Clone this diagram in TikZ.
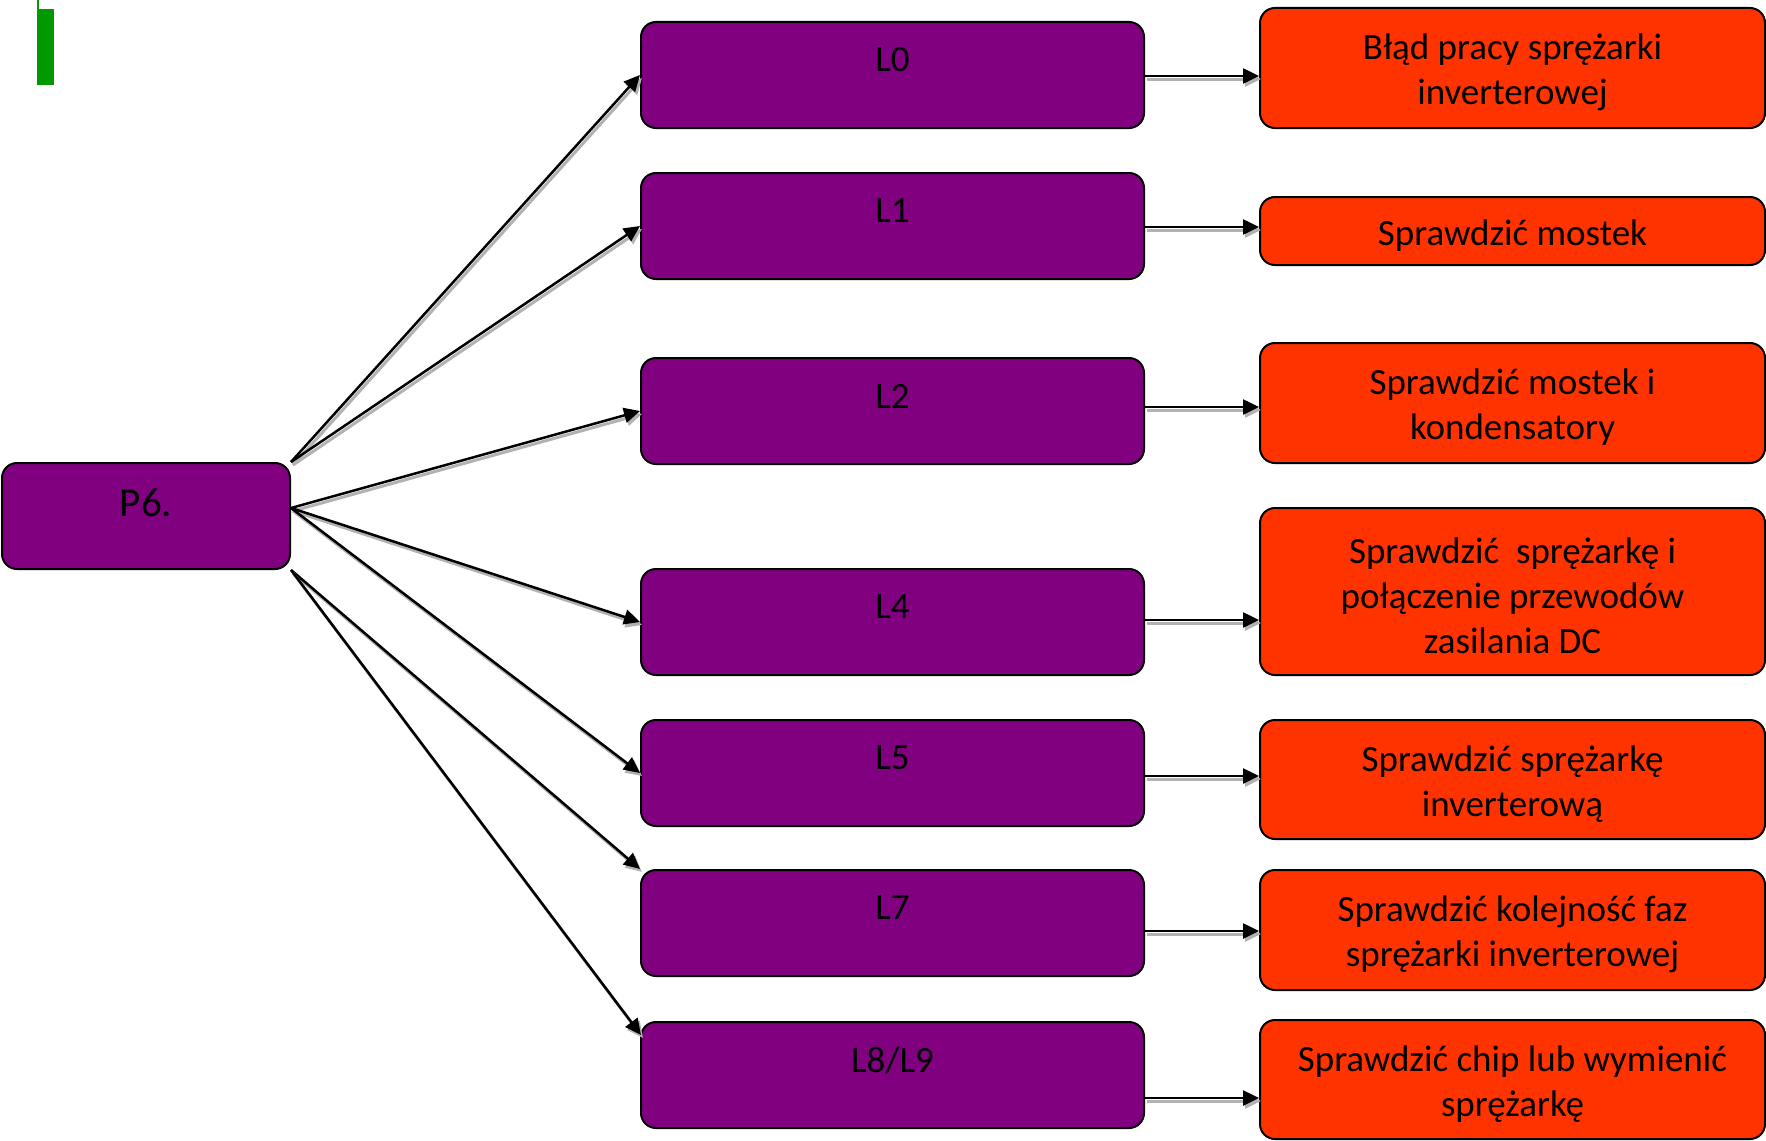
\documentclass[tikz,border=0pt]{standalone}
\usepackage{fontspec}
\setmainfont{Carlito}
\usetikzlibrary{arrows.meta,calc}
\definecolor{boxpurple}{HTML}{800080}
\definecolor{boxorange}{HTML}{FF3300}
\definecolor{markgreen}{HTML}{009900}

\begin{document}
\begin{tikzpicture}[x=1pt,y=-1pt,
  every node/.style={font=\fontsize{37}{45}\selectfont},
  box/.style={draw=black, line width=2pt, rounded corners=15pt, anchor=north west,
    inner sep=0pt, align=center},
  lbox/.style={box, fill=boxpurple, minimum width=503pt, minimum height=106pt},
  obox/.style={box, fill=boxorange, minimum width=505pt},
  toptext/.style={anchor=center, yshift=-39pt},
  midtext/.style={anchor=center, align=center, yshift=-4.5pt},
  conn/.style={line width=2.5pt, -{Triangle[length=16pt,width=15pt]},
    preaction={draw=black!30, line width=3pt, transform canvas={shift={(2pt,-3pt)}}}},
]
\useasboundingbox (0,0) rectangle (1766,1140);

% green marker, top left
\fill[markgreen] (37,9) rectangle (54,85);
\fill[markgreen] (37,0) rectangle (39,9);

% root
\node[box, fill=boxpurple, minimum width=288pt, minimum height=106pt,
  label={[toptext, yshift=-2pt, font=\fontsize{41}{49}\selectfont]north:P6.}] (p6) at (1,462) {};

% error codes
\node[lbox, label={[toptext]north:L0}] (l0) at (640,21) {};
\node[lbox, label={[toptext]north:L1}] (l1) at (640,172) {};
\node[lbox, label={[toptext]north:L2}] (l2) at (640,357) {};
\node[lbox, label={[toptext]north:L4}] (l4) at (640,568) {};
\node[lbox, label={[toptext]north:L5}] (l5) at (640,719) {};
\node[lbox, label={[toptext]north:L7}] (l7) at (640,869) {};
\node[lbox, label={[toptext]north:L8/L9}] (l8) at (640,1021) {};

% actions
\node[obox, minimum height=120pt,
  label={[midtext]center:Błąd pracy sprężarki\\inverterowej}] (o0) at (1259,7) {};
\node[obox, minimum height=68pt,
  label={[midtext]center:Sprawdzić mostek}] (o1) at (1259,196) {};
\node[obox, minimum height=120pt,
  label={[midtext]center:Sprawdzić mostek i\\kondensatory}] (o2) at (1259,342) {};
\node[obox, minimum height=167pt,
  label={[midtext]center:Sprawdzić~ sprężarkę i\\połączenie przewodów\\zasilania DC}] (o4) at (1259,507) {};
\node[obox, minimum height=119pt,
  label={[midtext]center:Sprawdzić sprężarkę\\inverterową}] (o5) at (1259,719) {};
\node[obox, minimum height=120pt,
  label={[midtext]center:Sprawdzić kolejność faz\\sprężarki inverterowej}] (o7) at (1259,869) {};
\node[obox, minimum height=119pt,
  label={[midtext]center:Sprawdzić chip lub wymienić\\sprężarkę}] (o8) at (1259,1019) {};

% connectors from the root
\coordinate (p6mid) at ($(p6.east)+(0,-8)$);
\coordinate (l8in) at ($(l8.north west)+(1,14)$);
\draw[conn] (p6.north east) -- (l0.west);
\draw[conn] (p6.north east) -- (l1.west);
\draw[conn] (p6mid) -- (l2.west);
\draw[conn] (p6mid) -- (l4.west);
\draw[conn] (p6mid) -- (l5.west);
\draw[conn] (p6.south east) -- (l7.north west);
\draw[conn] (p6.south east) -- (l8in);

% code -> action
\foreach \n/\d in {0/1,1/1,2/-4,4/-2,5/3,7/8,8/23} {
  \coordinate (a\n) at ($(l\n.east)+(0,\d)$);
  \draw[conn] (a\n) -- (a\n -| o\n.west);
}
\end{tikzpicture}
\end{document}
